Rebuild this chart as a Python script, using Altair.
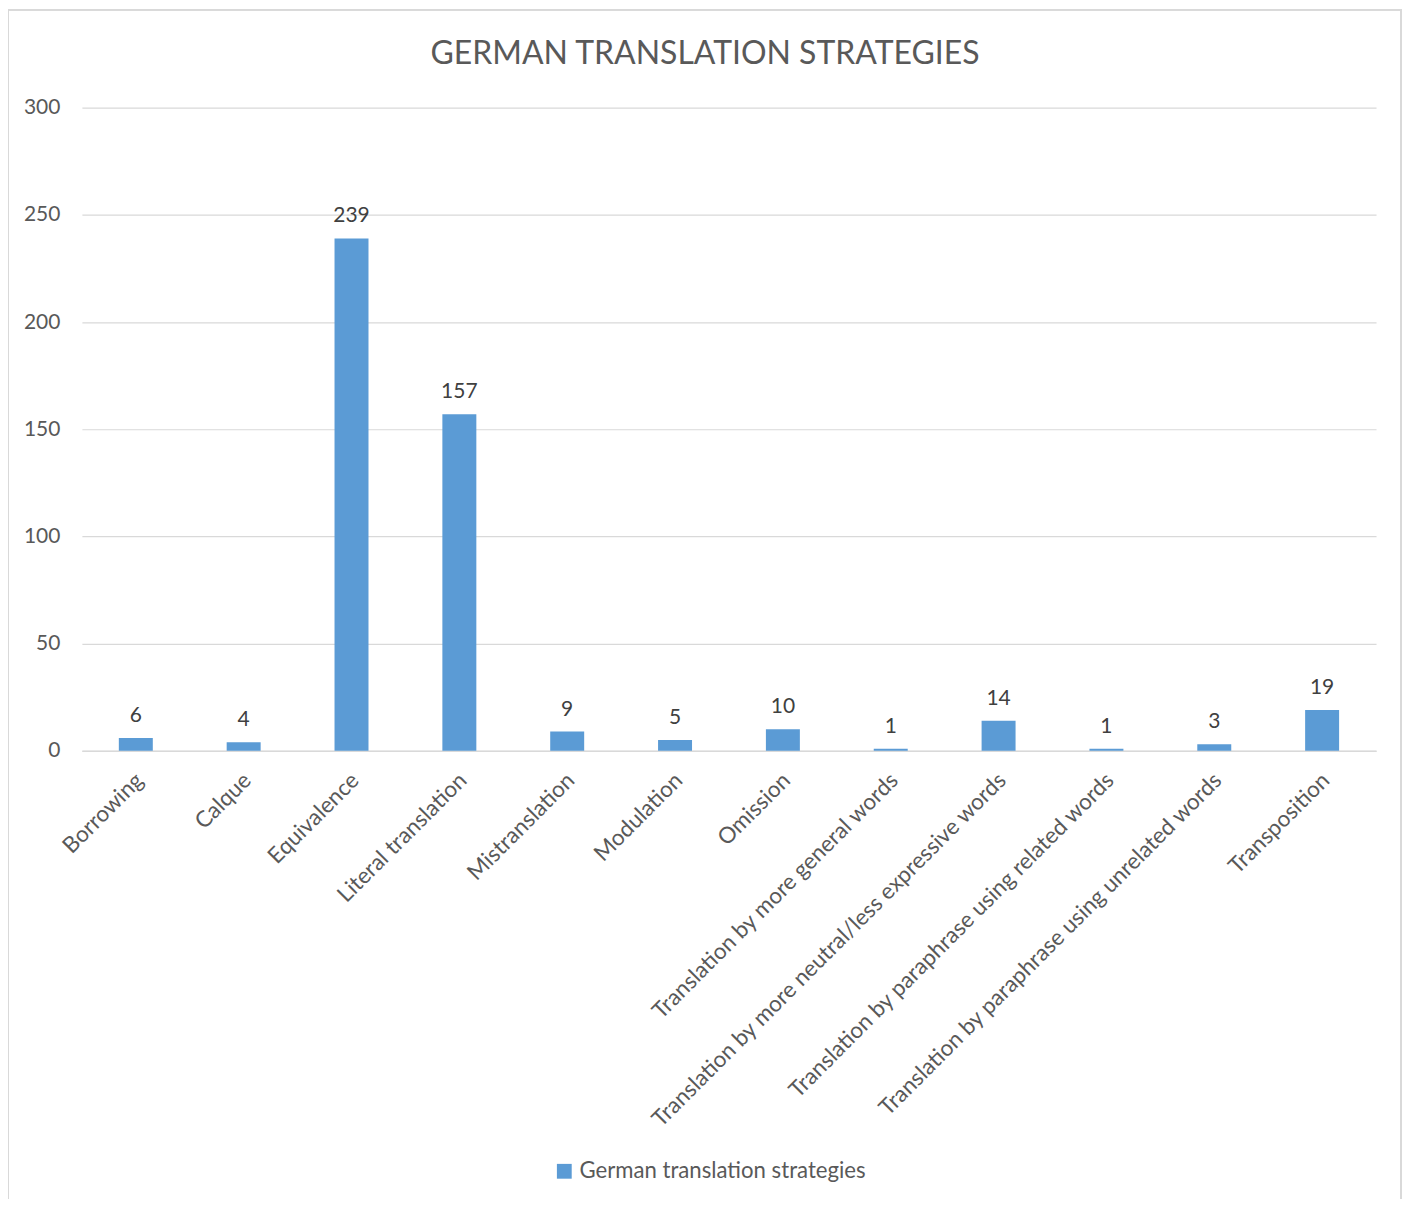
import altair as alt
import pandas as pd

categories = ["Borrowing", "Calque", "Equivalence", "Literal translation", "Mistranslation",
              "Modulation", "Omission", "Translation by more general words",
              "Translation by more neutral/less expressive words",
              "Translation by paraphrase using related words",
              "Translation by paraphrase using unrelated words", "Transposition"]
values = [6, 4, 239, 157, 9, 5, 10, 1, 14, 1, 3, 19]
series_name = "German translation strategies"
title_text = "GERMAN TRANSLATION STRATEGIES"

df = pd.DataFrame({"cat": categories, "val": values, "series": [series_name] * len(values)})

FONT = "Lato"
W, H = 1296, 644

x = alt.X("cat:N", sort=categories, title=None,
          scale=alt.Scale(paddingInner=0.685, paddingOuter=0.3425),
          axis=alt.Axis(labelAngle=-45, labelAlign="right", labelBaseline="top",
                        labelFontSize=22.5, labelColor="#595959", labelFont=FONT,
                        labelPadding=18, labelOffset=-4, labelLimit=1000, ticks=False,
                        domainColor="#D9D9D9", domainWidth=1.5, grid=False))
y = alt.Y("val:Q", title=None,
          scale=alt.Scale(domain=[0, 300], nice=False),
          axis=alt.Axis(values=[0, 50, 100, 150, 200, 250, 300], labelFontSize=21,
                        labelColor="#595959", labelFont=FONT, labelPadding=22,
                        ticks=False, domain=False, gridColor="#D9D9D9", gridWidth=1.2))

bars = alt.Chart(df).mark_bar(color="#5B9BD5").encode(
    x=x, y=y,
    color=alt.Color("series:N", scale=alt.Scale(range=["#5B9BD5"]),
                    legend=alt.Legend(title=None, orient="none", legendX=472, legendY=1054,
                                      symbolType="square", symbolSize=220,
                                      labelFontSize=22.2, labelFont=FONT, labelColor="#595959",
                                      symbolStrokeWidth=0, labelOffset=4, labelLimit=600)))

text = alt.Chart(df).mark_text(baseline="bottom", dy=-12, fontSize=21, font=FONT,
                               color="#404040").encode(x=x, y=y, text="val:Q")

title = alt.Chart(pd.DataFrame({"t": [title_text]})).mark_text(
    fontSize=32, font=FONT, color="#595959", baseline="middle", align="center"
).encode(x=alt.value(624), y=alt.value(-54), text="t:N")

border = alt.Chart(df).mark_rect(fill=None, stroke="#D9D9D9", strokeWidth=1.5).encode(
    x=alt.value(-74), x2=alt.value(1321), y=alt.value(-98), y2=alt.value(1130))

chart = alt.layer(border, bars, text, title).properties(
    width=W, height=H,
    background="white",
    padding={"left": 74, "top": 99, "right": 27, "bottom": 448},
    autosize=alt.AutoSizeParams(type="none"),
).configure_view(stroke="transparent", strokeWidth=0)

chart.save("out.html", embed_options={"renderer": "svg", "actions": False})
